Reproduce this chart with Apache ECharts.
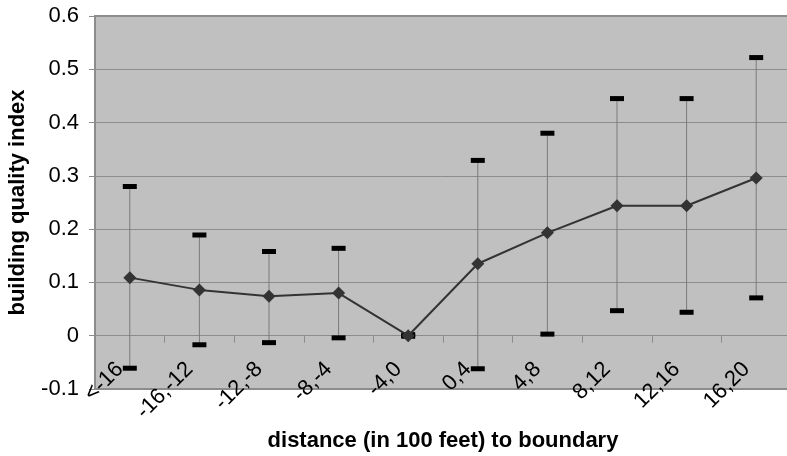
<!DOCTYPE html>
<html>
<head>
<meta charset="utf-8">
<script src="https://cdn.jsdelivr.net/npm/echarts@6/dist/echarts.min.js"></script>
<style>
  html, body { margin: 0; padding: 0; background: #fff; }
  #chart { width: 787px; height: 456px; }
</style>
</head>
<body>
<div id="chart"></div>
<script>
const categories = ["<-16", "-16,-12", "-12,-8", "-8,-4", "-4,0", "0,4", "4,8", "8,12", "12,16", "16,20"];
const means = [0.109, 0.086, 0.074, 0.080, 0.0, 0.135, 0.193, 0.244, 0.244, 0.296];
const upper = [0.280, 0.189, 0.158, 0.164, 0.002, 0.329, 0.380, 0.445, 0.445, 0.522];
const lower = [-0.061, -0.017, -0.013, -0.004, -0.001, -0.062, 0.003, 0.047, 0.044, 0.071];

const errorData = categories.map((c, i) => [i, lower[i], upper[i]]);

var chartDom = document.getElementById("chart");
let myChart = echarts.init(chartDom);

const font = "Liberation Sans, Arial, sans-serif";

let option = {
  animation: false,
  textStyle: { fontFamily: font },
  grid: {
    left: 95,
    top: 16,
    right: -4,
    bottom: 67,
    containLabel: false,
    outerBoundsMode: "none",
    show: true,
    backgroundColor: "#c0c0c0",
    borderColor: "#8c8c8c",
    borderWidth: 2,
  },
  xAxis: {
    type: "category",
    data: categories,
    axisLine: { onZero: true, lineStyle: { color: "#8c8c8c", width: 1 } },
    axisTick: { show: true, length: 7, lineStyle: { color: "#8c8c8c" } },
    axisLabel: {
      rotate: 45,
      margin: -33,
      padding: [0, 14, 0, 0],
      fontSize: 22,
      color: "#000",
      fontFamily: font,
      interval: 0,
      hideOverlap: false,
    },
    name: "distance (in 100 feet) to boundary",
    nameLocation: "middle",
    nameGap: 41,
    nameTextStyle: { fontSize: 22, fontWeight: "bold", color: "#000", fontFamily: font },
  },
  yAxis: {
    type: "value",
    min: -0.1,
    max: 0.6,
    interval: 0.1,
    axisLine: { show: true, lineStyle: { color: "#8c8c8c", width: 2 } },
    axisTick: { show: true, length: 6, lineStyle: { color: "#8c8c8c" } },
    axisLabel: {
      fontSize: 22,
      color: "#000",
      margin: 16,
      fontFamily: font,
      formatter: (v) => String(Math.round(v * 10) / 10),
    },
    splitLine: { show: true, lineStyle: { color: "#8c8c8c", width: 1 } },
    name: "building quality index",
    nameLocation: "middle",
    nameGap: 66,
    nameTextStyle: { fontSize: 22, fontWeight: "bold", color: "#000", fontFamily: font },
  },
  series: [
    {
      name: "error",
      type: "custom",
      data: errorData,
      z: 2,
      renderItem: (params, api) => {
        const x = api.value(0);
        const lo = api.coord([x, api.value(1)]);
        const hi = api.coord([x, api.value(2)]);
        return {
          type: "group",
          children: [
            {
              type: "line",
              shape: { x1: lo[0], y1: lo[1], x2: hi[0], y2: hi[1] },
              style: { stroke: "#7a7a7a", lineWidth: 1 },
            },
            {
              type: "rect",
              shape: { x: hi[0] - 7, y: hi[1] - 2.5, width: 14, height: 5 },
              style: { fill: "#000" },
            },
            {
              type: "rect",
              shape: { x: lo[0] - 7, y: lo[1] - 2.5, width: 14, height: 5 },
              style: { fill: "#000" },
            },
          ],
        };
      },
    },
    {
      name: "mean",
      type: "line",
      data: means,
      z: 3,
      symbol: "diamond",
      symbolSize: 13,
      color: "#333333",
      lineStyle: { color: "#333333", width: 2 },
      itemStyle: { color: "#333333" },
    },
  ],
};

myChart.setOption(option);
window.onresize = () => {
  myChart.resize();
};
</script>
</body>
</html>
